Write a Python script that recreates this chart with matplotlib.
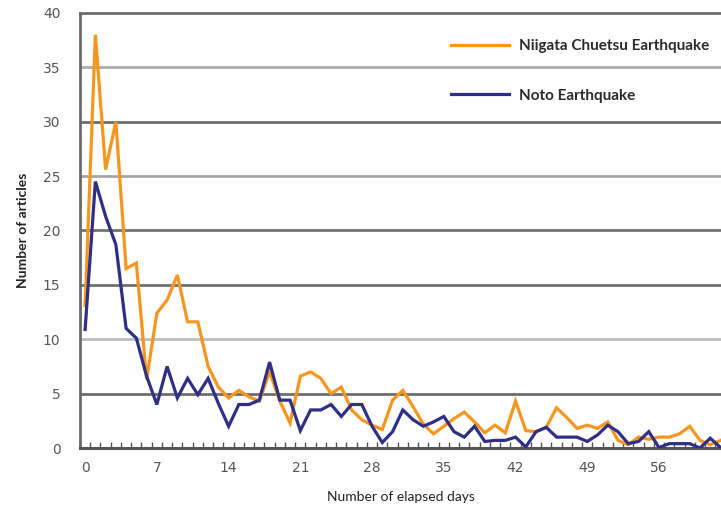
import matplotlib.pyplot as plt
import numpy as np
from matplotlib.ticker import FixedLocator

# Daily article counts after each earthquake (day 0 = day of the quake)
days = list(range(63))
niigata = [13.1, 38.0, 25.6, 30.0, 16.5, 17.0, 6.3, 12.4, 13.6, 15.9,
           11.6, 11.6, 7.5, 5.6, 4.6, 5.3, 4.7, 4.3, 7.0, 4.3,
           2.3, 6.6, 7.0, 6.4, 5.0, 5.6, 3.5, 2.6, 2.1, 1.7,
           4.4, 5.3, 3.8, 2.2, 1.3, 2.0, 2.7, 3.3, 2.4, 1.4,
           2.1, 1.4, 4.3, 1.6, 1.5, 1.9, 3.7, 2.8, 1.8, 2.1,
           1.8, 2.4, 0.7, 0.3, 1.0, 0.8, 1.0, 1.0, 1.3, 2.0,
           0.7, 0.3, 0.7]
noto = [10.9, 24.5, 21.3, 18.7, 11.0, 10.1, 6.6, 4.0, 7.5, 4.6,
        6.4, 4.9, 6.4, 4.1, 2.0, 4.0, 4.0, 4.4, 7.9, 4.4,
        4.4, 1.6, 3.5, 3.5, 4.0, 2.9, 4.0, 4.0, 2.0, 0.5,
        1.5, 3.5, 2.6, 2.0, 2.4, 2.9, 1.5, 1.0, 2.0, 0.6,
        0.7, 0.7, 1.0, 0.1, 1.5, 1.9, 1.0, 1.0, 1.0, 0.6,
        1.2, 2.1, 1.5, 0.4, 0.6, 1.5, 0.05, 0.4, 0.4, 0.4,
        0.0, 0.9, 0.05]
xtick_labels = [0, 7, 14, 21, 28, 35, 42, 49, 56]
ytick_labels = [0, 5, 10, 15, 20, 25, 30, 35, 40]

ORANGE = "#f7961e"
NAVY = "#2f2f86"

fig = plt.figure(figsize=(7.21, 5.07), dpi=100)
ax = fig.add_axes([80 / 721, 59 / 507, 641 / 721, 435 / 507])

# horizontal grid lines with alternating tones
grid_colors = {5: "#6e6e6e", 10: "#bdbdbd", 15: "#707070", 20: "#747474",
               25: "#a6a6a6", 30: "#6e6e6e", 35: "#adadad"}
for v, c in grid_colors.items():
    ax.axhline(v, color=c, lw=2.0, zorder=1)
ax.axhline(40, color="#6e6e6e", lw=2.0, zorder=1, clip_on=False)

ax.plot(days, niigata, color=ORANGE, lw=2.3, zorder=3,
        label="Niigata Chuetsu Earthquake", solid_joinstyle="miter")
ax.plot(days, noto, color=NAVY, lw=2.3, zorder=4,
        label="Noto Earthquake", solid_joinstyle="miter")

ax.set_xlim(-0.5, 62.05)
ax.set_ylim(0, 40)

for side in ("top", "right"):
    ax.spines[side].set_visible(False)
ax.spines["left"].set_color("#6a6a6a")
ax.spines["left"].set_linewidth(2.0)
ax.spines["bottom"].set_color("#555555")
ax.spines["bottom"].set_linewidth(2.2)

ax.set_xticks(xtick_labels)
ax.set_xticklabels([str(t) for t in xtick_labels])
ax.xaxis.set_minor_locator(FixedLocator(np.arange(-0.5, 62.5, 1.0)))
ax.tick_params(axis="x", which="major", length=0, pad=9,
               labelsize=10, labelcolor="#555555")
ax.tick_params(axis="x", which="minor", direction="in", length=4,
               width=1.0, color="#555555")
ax.set_yticks(ytick_labels)
ax.tick_params(axis="y", length=0, pad=14, labelsize=10,
               labelcolor="#555555")
for lbl in ax.get_xticklabels() + ax.get_yticklabels():
    lbl.set_family("Liberation Sans Narrow")

ax.set_xlabel("Number of elapsed days", fontsize=10, color="#222222",
              family="Lato", labelpad=12)
ax.set_ylabel("Number of articles", fontsize=10, color="#222222",
              family="Lato", fontweight="bold", labelpad=10)

leg = ax.legend(loc="upper left", bbox_to_anchor=(0.558, 0.972),
                frameon=False, handlelength=3.8, handletextpad=0.65,
                labelspacing=2.35, prop={"family": "Lato", "weight": "bold",
                                         "size": 11})
for t in leg.get_texts():
    t.set_color("#2a2a2a")

fig.savefig("out.png", dpi=100)
